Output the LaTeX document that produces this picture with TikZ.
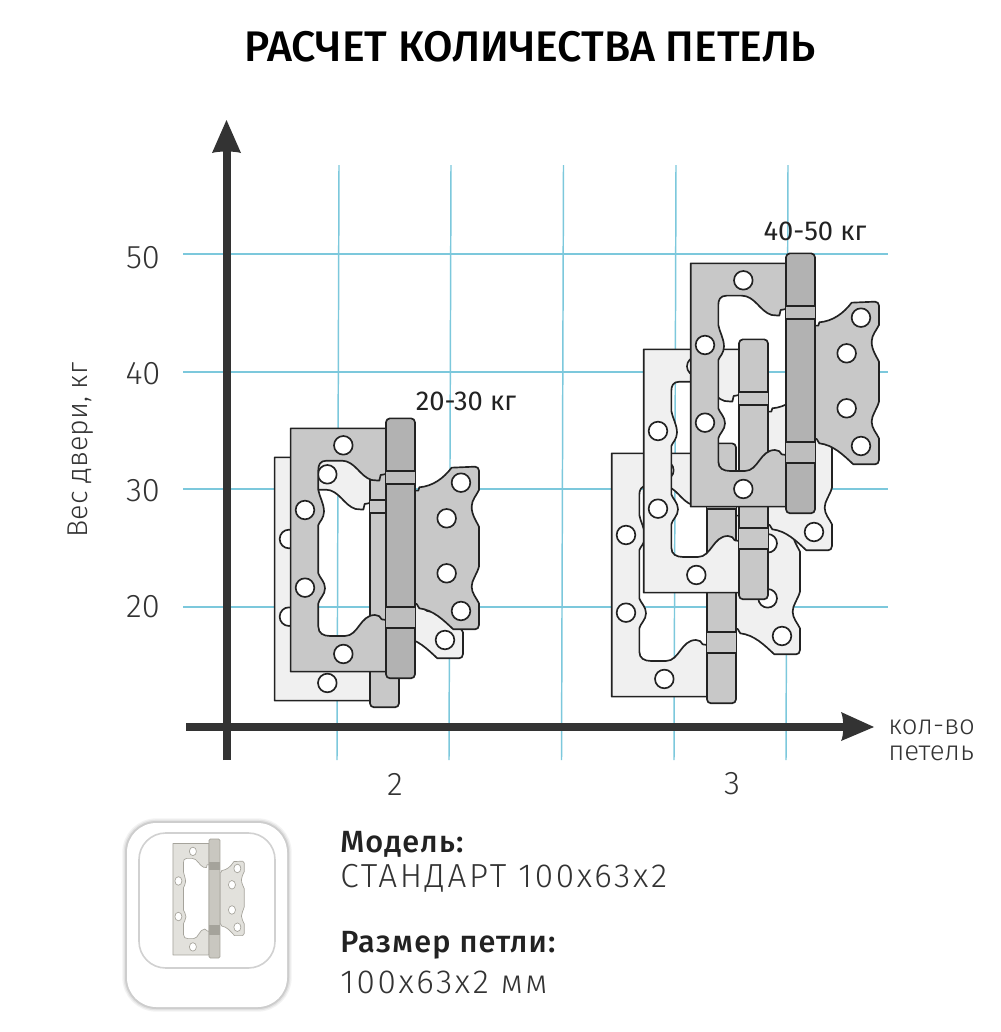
\documentclass[tikz,border=0pt]{standalone}
\usepackage{fontspec}
\setmainfont{Fira Sans}
\newfontfamily\lightf{Fira Sans Light}
\newfontfamily\lightfs[LetterSpace=8]{Fira Sans Light}
\newfontfamily\medf{Fira Sans Medium}
\newfontfamily\medfs[LetterSpace=4]{Fira Sans Medium}
\definecolor{gridc}{HTML}{7CC8DC}
\definecolor{axisc}{HTML}{333333}
\definecolor{ink}{HTML}{222222}
\definecolor{txt}{HTML}{333333}
\definecolor{lightp}{HTML}{F0F0F0}
\definecolor{midg}{HTML}{C8C8C8}
\definecolor{darkg}{HTML}{B2B2B2}
\definecolor{bandg}{HTML}{BEBEBE}
\definecolor{photoA}{HTML}{E2E1DC}
\definecolor{photoB}{HTML}{C9C7C0}
\definecolor{photoC}{HTML}{A5A39B}
\newcommand{\hingeshape}[8]{%
% #1 scope options, #2 plate, #3 barrel, #4 band, #5 line colour, #6 line width, #7 barrel corner, #8 band line width
\begin{scope}[#1,line width=#6,draw=#5,line join=round]
\fill[#2,even odd rule,draw=#5]
 (92,85) -- (378,85) -- (378,815) -- (92,815) -- cycle
 (378,222) -- (362,225) -- (358,242) -- (335,240) .. controls (300,230) and (285,182) .. (245,182) -- (200,182) .. controls (180,182) and (175,195) .. (175,210) -- (175,270) .. controls (178,290) and (192,310) .. (192,335) .. controls (192,355) and (178,365) .. (175,375) -- (175,520) .. controls (180,535) and (195,545) .. (195,565) .. controls (195,585) and (178,595) .. (175,610) -- (175,680) .. controls (175,700) and (190,708) .. (210,708) -- (255,708) .. controls (295,708) and (300,645) .. (345,645) .. controls (355,645) and (362,650) .. (365,658) -- (378,660) -- cycle;
\fill[#2,draw=#5]
 (465,272) -- (475,272) -- (478,262) .. controls (520,258) and (550,235) .. (575,203) -- (645,200) .. controls (652,200) and (657,205) .. (657,212) -- (657,270) .. controls (650,285) and (635,300) .. (635,320) .. controls (635,345) and (650,365) .. (657,380) -- (657,500) .. controls (650,525) and (635,540) .. (635,560) .. controls (635,580) and (650,595) .. (657,610) -- (657,675) .. controls (657,683) and (652,688) .. (645,688) -- (580,688) .. controls (550,660) and (520,630) .. (478,625) -- (470,612) -- (465,612) -- cycle;
\foreach \cx/\cy in {250/136,135/330,135/563,250/762,603/248,560/355,560/520,603/633}
 \fill[white,draw=#5] (\cx,\cy) circle (28);
\fill[#3,draw=#5,rounded corners=#7] (378,55) rectangle (465,835);
\fill[#4] (378,212) rectangle (465,253);
\fill[#4] (378,622) rectangle (465,683);
\draw[line width=#8] (378,212) -- (465,212) (378,253) -- (465,253) (378,622) -- (465,622) (378,683) -- (465,683);
\end{scope}}
\newcommand{\hingeat}[5]{\hingeshape{shift={(#1,#2)},scale=0.3333}{#3}{#4}{#5}{ink}{1.25pt}{3pt}{1.7pt}}
\tikzset{
 gridline/.style={gridc,line width=1.1pt},
 axisline/.style={axisc,line width=6pt},
 axishead/.style={axisc,fill=axisc,draw=none},
 tick/.style={text=txt,font=\lightf\fontsize{24.5}{26}\selectfont,inner sep=0pt},
 rangelabel/.style={text=ink,font=\fontsize{20.5}{22}\selectfont,inner sep=0pt},
 axlabel/.style={text=txt,font=\lightf\fontsize{20.7}{22}\selectfont,inner sep=0pt,anchor=base west},
 boldlabel/.style={text=ink,font=\medfs\fontsize{23}{25}\selectfont,inner sep=0pt,anchor=base west},
 thinlabel/.style={text=txt,font=\lightfs\fontsize{25}{27}\selectfont,inner sep=0pt,anchor=base west},
}
\begin{document}
\begin{tikzpicture}[x=0.75pt,y=-0.75pt]
\useasboundingbox (0,0) rectangle (1000,1032);
\fill[white] (0,0) rectangle (1000,1032);
\node[inner sep=0pt,text=black,font=\medf\fontsize{32.1}{34}\selectfont] (title) at (530,47) {РАСЧЕТ КОЛИЧЕСТВА ПЕТЕЛЬ};
% grid
\foreach \gx in {339,451,563.5,676,788}
 \draw[gridline] (\gx,165) -- (\gx-2,760);
\foreach \gy in {254,372,489,607}
 \draw[gridline] (183,\gy) -- (888,\gy);
% axes
\draw[axisline] (226.5,760) -- (226.5,150);
\fill[axishead] (226.5,120) -- (241,153) .. controls (235,151) and (218,151) .. (212,153) -- cycle;
\draw[axisline] (186,727) -- (845,727);
\fill[axishead] (874,727) -- (841,712) .. controls (844,718) and (844,736) .. (841,741) -- cycle;
% hinges
\hingeat{244}{429}{lightp}{midg}{midg}
\hingeat{260}{400}{midg}{darkg}{bandg}
\hingeat{581}{425}{lightp}{midg}{midg}
\hingeat{613}{321}{lightp}{midg}{midg}
\hingeat{660}{235}{midg}{darkg}{bandg}
% labels
\node[tick] (t50) at (143,258) {50};
\node[tick] (t40) at (143,374) {40};
\node[tick] (t30) at (143,491) {30};
\node[tick] (t20) at (143,607) {20};
\node[tick,rotate=90,font=\lightf\fontsize{21.5}{23}\selectfont] (ylab) at (81,450) {Вес двери, кг};
\node[rangelabel] (r1) at (466,401) {20-30 кг};
\node[rangelabel] (r2) at (815,231) {40-50 кг};
\node[axlabel] (xl1) at (888,734) {кол-во};
\node[axlabel] (xl2) at (888,760) {петель};
\node[tick] (n2) at (395,784) {2};
\node[tick] (n3) at (732,784) {3};
% card
\foreach \w/\o in {7/0.10,5/0.15,3/0.25}
 \draw[black!45,line width=\w pt,opacity=\o,rounded corners=22] (127,823) rectangle (287,1007);
\fill[white,rounded corners=22] (127,823) rectangle (287,1007);
\draw[black!18,line width=1.2pt,rounded corners=20] (139,833) rectangle (275,968);
\hingeshape{shift={(161.4,830.6)},xscale=0.126,yscale=0.1526}{photoA}{photoB}{photoC}{photoC}{0.5pt}{1pt}{0.8pt}
\node[boldlabel] (m1) at (340,852) {Модель:};
\node[thinlabel] (m2) at (340,887) {СТАНДАРТ 100х63х2};
\node[boldlabel] (m3) at (340,952) {Размер петли:};
\node[thinlabel] (m4) at (340,993) {100х63х2 мм};
\end{tikzpicture}
\end{document}
